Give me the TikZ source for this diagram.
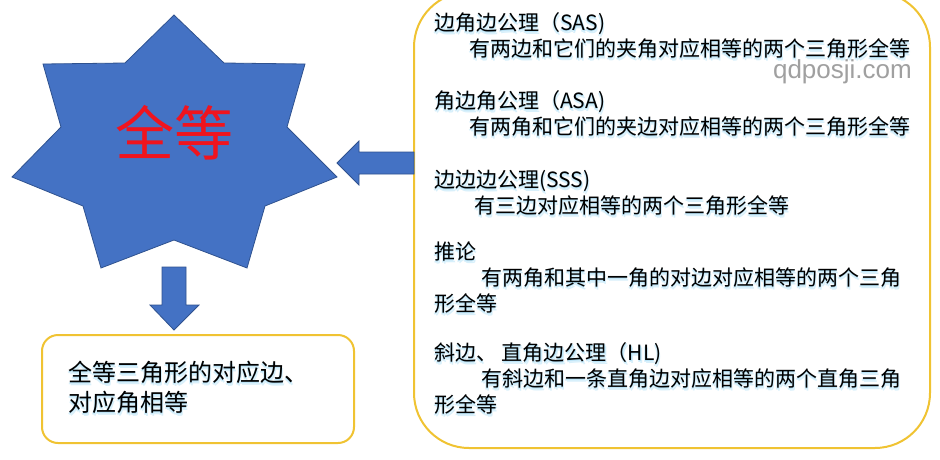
\documentclass[tikz,border=0pt]{standalone}
\usepackage{fontspec}
\setmainfont{Noto Sans CJK SC}
\newfontfamily\wmfont{Liberation Sans}
\definecolor{starblue}{RGB}{68,114,196}
\definecolor{staredge}{RGB}{47,82,143}
\definecolor{boxgold}{RGB}{240,195,50}
\definecolor{glowc}{RGB}{80,185,235}
\definecolor{qred}{RGB}{240,20,30}
\newcommand{\glowed}[1]{%
  \makebox[0pt][l]{\hspace{1.2pt}\raisebox{-3pt}{\textcolor{glowc!22}{#1}}}%
  \makebox[0pt][l]{\hspace{-0.8pt}\raisebox{-2.5pt}{\textcolor{glowc!22}{#1}}}%
  \makebox[0pt][l]{\hspace{0.3pt}\raisebox{-1.6pt}{\textcolor{glowc!40}{#1}}}%
  #1}
\begin{document}
\begin{tikzpicture}[x=1pt,y=-1pt,
  shape blue/.style={fill=starblue, draw=staredge, line width=0.8pt, line join=miter},
  goldbox/.style={draw=boxgold, line width=2pt, fill=white},
  rtxt/.style={anchor=base west, inner sep=0pt, font=\fontsize{21}{24}\selectfont},
  ltxt/.style={anchor=base west, inner sep=0pt, font=\fontsize{24}{28}\selectfont}]
\useasboundingbox (0,0) rectangle (940,459);
\fill[white] (0,0) rectangle (940,459);

% star
\draw[shape blue] (174,15) -- (224,63) -- (305,64) -- (287,127) -- (337,177)
  -- (265,206) -- (247,268) -- (174,240) -- (101,268) -- (83,206) -- (12,177)
  -- (61,127) -- (43,64) -- (125,63) -- cycle;
\node[text=qred, inner sep=0pt, font=\fontsize{59}{62}\selectfont] (quan) at (174,133) {全等};

% right box
\draw[goldbox, rounded corners=55pt] (414,-8) rectangle (930,448);
\coordinate (rb) at (414,163);

% left arrow
\draw[shape blue] (rb) ++(0,-11) -- (359,152) -- (359,141) -- (337,163) -- (359,185)
  -- (359,174) -- ++(55,0) -- cycle;

% down arrow
\draw[shape blue] (162,267) -- (186,267) -- (186,305) -- (199,305) -- (174,330)
  -- (150,305) -- (162,305) -- cycle;

% bottom-left box
\draw[goldbox, rounded corners=16pt] (42,335) rectangle (354,443);
\node[ltxt] (l1) at (68,381) {\glowed{全等三角形的对应边、}};
\node[ltxt] (l2) at (68,411) {\glowed{对应角相等}};

% right texts
\node[rtxt] (r1) at (434,30) {\glowed{边角边公理（SAS)}};
\node[rtxt] (r2) at (469,56) {\glowed{有两边和它们的夹角对应相等的两个三角形全等}};
\node[anchor=east, inner sep=0pt, text={rgb,255:red,160;green,160;blue,160}, font=\wmfont\fontsize{26}{30}\selectfont] (wm) at (912,72) {qdposji.com};
\node[rtxt] (r3) at (434,108) {\glowed{角边角公理（ASA)}};
\node[rtxt] (r4) at (469,134) {\glowed{有两角和它们的夹边对应相等的两个三角形全等}};
\node[rtxt] (r5) at (434,187) {\glowed{边边边公理(SSS)}};
\node[rtxt] (r6) at (474,213) {\glowed{有三边对应相等的两个三角形全等}};
\node[rtxt] (r7) at (434,259) {\glowed{推论}};
\node[rtxt] (r8) at (481,285) {\glowed{有两角和其中一角的对边对应相等的两个三角}};
\node[rtxt] (r9) at (434,311) {\glowed{形全等}};
\node[rtxt] (r10) at (434,360) {\glowed{斜边、 直角边公理（HL)}};
\node[rtxt] (r11) at (481,386) {\glowed{有斜边和一条直角边对应相等的两个直角三角}};
\node[rtxt] (r12) at (434,412) {\glowed{形全等}};
\end{tikzpicture}
\end{document}
